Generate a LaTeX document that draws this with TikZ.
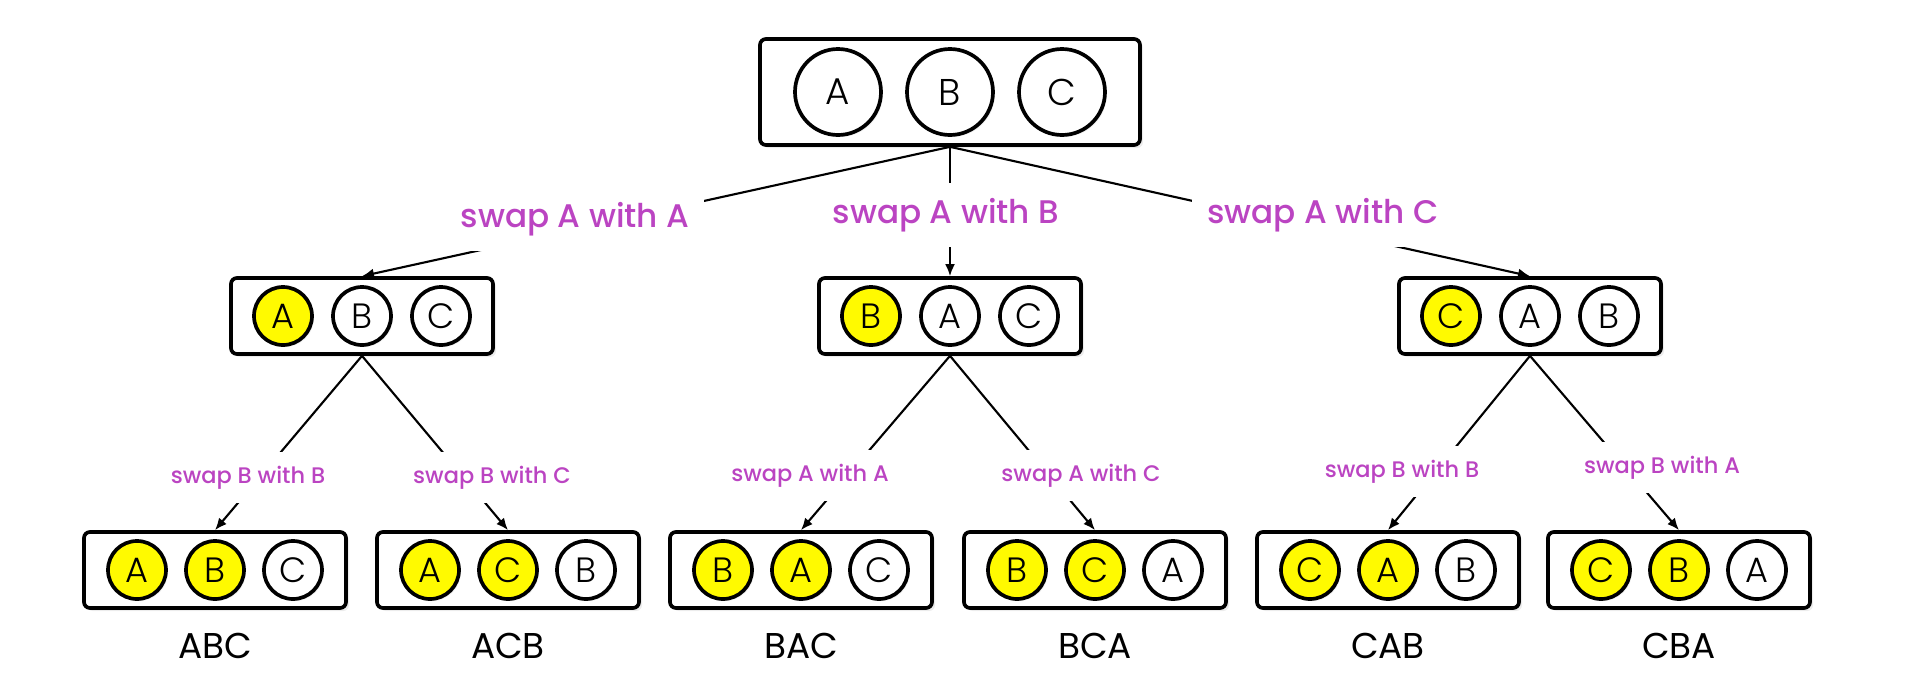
\documentclass[tikz,border=0pt]{standalone}
\usepackage{fontspec}
\setmainfont{Poppins}
\newfontfamily\swapfont{Poppins Medium}
\newfontfamily\letterfont{Poppins Light}
\usetikzlibrary{arrows.meta,shadows}
\definecolor{swapc}{RGB}{187,68,194}
\definecolor{hl}{RGB}{255,250,0}
\begin{document}
\begin{tikzpicture}[
  box/.style={draw, line width=1.05pt, rounded corners=0.06cm, fill=white,
    drop shadow={opacity=0.15, shadow xshift=0.03cm, shadow yshift=-0.03cm}},
  small/.style={box, minimum width=2.62cm, minimum height=0.76cm},
  ball/.style={circle, draw, line width=1.05pt, fill=white, inner sep=0pt, minimum size=0.58cm,
    drop shadow={opacity=0.12, shadow xshift=0.02cm, shadow yshift=-0.02cm},
    font=\letterfont\fontsize{10}{10}\selectfont},
  big/.style={ball, minimum size=0.86cm, font=\letterfont\fontsize{10.6}{10.6}\selectfont},
  yel/.style={fill=hl},
  arr/.style={line width=0.6pt, -{Latex[length=0.12cm,width=0.1cm]}},
  swap/.style={fill=white, text=swapc, anchor=base, inner xsep=0.15cm, inner ysep=0.15cm,
    font=\swapfont\fontsize{9.3}{11}\selectfont},
  swapsm/.style={swap, inner xsep=0.1cm, inner ysep=0.14cm, font=\swapfont\fontsize{6.4}{8}\selectfont},
  perm/.style={anchor=base, font=\fontsize{10.2}{12}\selectfont}]
  \useasboundingbox (0,0) rectangle (19.19,-6.81);
  \node (t) at (9.50,-0.92) [box, minimum width=3.80cm, minimum height=1.06cm] {};
  \node (t1) at (8.38,-0.92) [big] {A}; \node (t2) at (9.50,-0.92) [big] {B};
  \node (t3) at (10.62,-0.92) [big] {C};
  \node (m1) at (3.62,-3.16) [small] {}; \node (m2) at (9.50,-3.16) [small] {};
  \node (m3) at (15.30,-3.16) [small] {};
  \node (m1a) at (2.83,-3.16) [ball,yel] {A}; \node (m1b) at (3.62,-3.16) [ball] {B};
  \node (m1c) at (4.41,-3.16) [ball] {C};
  \node (m2a) at (8.71,-3.16) [ball,yel] {B}; \node (m2b) at (9.50,-3.16) [ball] {A};
  \node (m2c) at (10.29,-3.16) [ball] {C};
  \node (m3a) at (14.51,-3.16) [ball,yel] {C}; \node (m3b) at (15.30,-3.16) [ball] {A};
  \node (m3c) at (16.09,-3.16) [ball] {B};
  \node (b1) at (2.15,-5.70) [small] {}; \node (b2) at (5.08,-5.70) [small] {};
  \node (b3) at (8.01,-5.70) [small] {}; \node (b4) at (10.95,-5.70) [small] {};
  \node (b5) at (13.88,-5.70) [small] {}; \node (b6) at (16.79,-5.70) [small] {};
  \node (b1a) at (1.37,-5.70) [ball,yel] {A}; \node (b1b) at (2.15,-5.70) [ball,yel] {B};
  \node (b1c) at (2.93,-5.70) [ball] {C};
  \node (b2a) at (4.30,-5.70) [ball,yel] {A}; \node (b2b) at (5.08,-5.70) [ball,yel] {C};
  \node (b2c) at (5.86,-5.70) [ball] {B};
  \node (b3a) at (7.23,-5.70) [ball,yel] {B}; \node (b3b) at (8.01,-5.70) [ball,yel] {A};
  \node (b3c) at (8.79,-5.70) [ball] {C};
  \node (b4a) at (10.17,-5.70) [ball,yel] {B}; \node (b4b) at (10.95,-5.70) [ball,yel] {C};
  \node (b4c) at (11.73,-5.70) [ball] {A};
  \node (b5a) at (13.10,-5.70) [ball,yel] {C}; \node (b5b) at (13.88,-5.70) [ball,yel] {A};
  \node (b5c) at (14.66,-5.70) [ball] {B};
  \node (b6a) at (16.01,-5.70) [ball,yel] {C}; \node (b6b) at (16.79,-5.70) [ball,yel] {B};
  \node (b6c) at (17.57,-5.70) [ball] {A};
  \draw[arr] (t.south) -- (m1.north); \draw[arr] (t.south) -- (m2.north);
  \draw[arr] (t.south) -- (m3.north);
  \draw[arr] (m1.south) -- (b1.north); \draw[arr] (m1.south) -- (b2.north);
  \draw[arr] (m2.south) -- (b3.north); \draw[arr] (m2.south) -- (b4.north);
  \draw[arr] (m3.south) -- (b5.north); \draw[arr] (m3.south) -- (b6.north);
  \node (s1) at (5.75,-2.27) [swap] {swap A with A};
  \node (s2) at (9.46,-2.23) [swap] {swap A with B};
  \node (s3) at (13.23,-2.23) [swap] {swap A with C};
  \node (s11) at (2.48,-4.83) [swapsm] {swap B with B};
  \node (s12) at (4.92,-4.83) [swapsm] {swap B with C};
  \node (s21) at (8.10,-4.81) [swapsm] {swap A with A};
  \node (s22) at (10.81,-4.81) [swapsm] {swap A with C};
  \node (s31) at (14.02,-4.77) [swapsm] {swap B with B};
  \node (s32) at (16.62,-4.73) [swapsm] {swap B with A};
  \node (p1) at (2.15,-6.58) [perm] {ABC}; \node (p2) at (5.08,-6.58) [perm] {ACB};
  \node (p3) at (8.01,-6.58) [perm] {BAC}; \node (p4) at (10.95,-6.58) [perm] {BCA};
  \node (p5) at (13.88,-6.58) [perm] {CAB}; \node (p6) at (16.79,-6.58) [perm] {CBA};
\end{tikzpicture}
\end{document}
